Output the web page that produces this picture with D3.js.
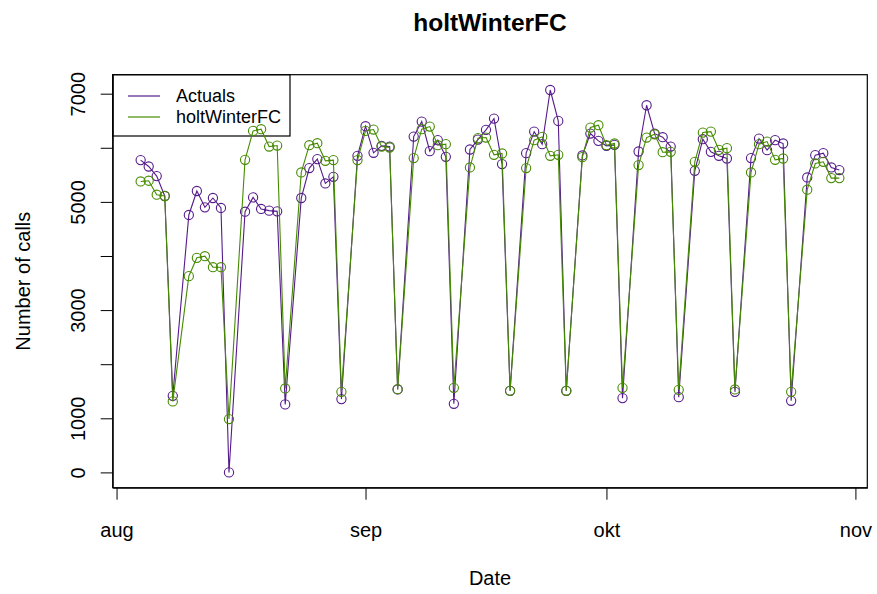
<!DOCTYPE html>
<html>
<head>
<meta charset="utf-8">
<script src="https://cdn.jsdelivr.net/npm/d3@7/dist/d3.min.js"></script>
<style>
  html, body { margin: 0; padding: 0; background: #fff; }
  svg text { font-family: "Liberation Sans", Arial, Helvetica, sans-serif; fill: #000; }
</style>
</head>
<body>
<svg id="chart" width="877" height="594"></svg>
<script>
// ---------- data ----------
const dates = [
  "2015-08-04","2015-08-05","2015-08-06","2015-08-07","2015-08-08",
  "2015-08-10","2015-08-11","2015-08-12","2015-08-13","2015-08-14","2015-08-15",
  "2015-08-17","2015-08-18","2015-08-19","2015-08-20","2015-08-21","2015-08-22",
  "2015-08-24","2015-08-25","2015-08-26","2015-08-27","2015-08-28","2015-08-29",
  "2015-08-31","2015-09-01","2015-09-02","2015-09-03","2015-09-04","2015-09-05",
  "2015-09-07","2015-09-08","2015-09-09","2015-09-10","2015-09-11","2015-09-12",
  "2015-09-14","2015-09-15","2015-09-16","2015-09-17","2015-09-18","2015-09-19",
  "2015-09-21","2015-09-22","2015-09-23","2015-09-24","2015-09-25","2015-09-26",
  "2015-09-28","2015-09-29","2015-09-30","2015-10-01","2015-10-02","2015-10-03",
  "2015-10-05","2015-10-06","2015-10-07","2015-10-08","2015-10-09","2015-10-10",
  "2015-10-12","2015-10-13","2015-10-14","2015-10-15","2015-10-16","2015-10-17",
  "2015-10-19","2015-10-20","2015-10-21","2015-10-22","2015-10-23","2015-10-24",
  "2015-10-26","2015-10-27","2015-10-28","2015-10-29","2015-10-30"
];
const actuals = [
  5772, 5654, 5477, 5109, 1415,
  4758, 5201, 4899, 5072, 4888, 0,
  4819, 5083, 4869, 4838, 4825, 1257,
  5072, 5625, 5791, 5341, 5464, 1355,
  5852, 6399, 5907, 6036, 6023, 1533,
  6207, 6484, 5938, 6141, 5833, 1268,
  5968, 6152, 6331, 6539, 5698, 1508,
  5901, 6299, 6067, 7068, 6497, 1508,
  5858, 6263, 6128, 6036, 6054, 1373,
  5931, 6786, 6260, 6196, 6023, 1391,
  5575, 6159, 5925, 5852, 5802, 1489,
  5809, 6171, 5956, 6141, 6079, 1323,
  5452, 5864, 5901, 5636, 5588
];
const holtWinterFC = [
  5378, 5391, 5133, 5109, 1312,
  3627, 3966, 3996, 3793, 3793, 986,
  5778, 6312, 6343, 6023, 6041, 1552,
  5544, 6048, 6085, 5759, 5772, 1489,
  5772, 6312, 6337, 6023, 6005, 1539,
  5809, 6343, 6392, 6048, 6067, 1563,
  5636, 6178, 6189, 5870, 5894, 1508,
  5625, 6141, 6202, 5852, 5870, 1508,
  5827, 6374, 6417, 6048, 6079, 1563,
  5680, 6189, 6250, 5918, 5925, 1526,
  5741, 6281, 6299, 5962, 5993, 1533,
  5544, 6067, 6115, 5778, 5802, 1489,
  5225, 5710, 5741, 5440, 5440
];
const seriesNames = ["Actuals", "holtWinterFC"];
const seriesColors = ["#551A8B", "#458B00"];
const monthTicks = ["2015-08-01", "2015-09-01", "2015-10-01", "2015-11-01"];
const monthLabels = ["aug", "sep", "okt", "nov"];
const yTicks = [0, 1000, 2000, 3000, 4000, 5000, 6000, 7000];
const yTickLabels = [0, 1000, 3000, 5000, 7000];

// ---------- layout ----------
const plot = { left: 112.7, right: 867.3, top: 74.7, bottom: 487.7 };
const svg = d3.select("#chart");
const parse = d3.utcParse("%Y-%m-%d");
const xs = dates.map(parse);

// R-style 4% extension of the data range
const xExt = d3.extent(xs);
const xPad = (xExt[1] - xExt[0]) * 0.04;
const x = d3.scaleUtc()
  .domain([new Date(+xExt[0] - xPad), new Date(+xExt[1] + xPad)])
  .range([plot.left, plot.right]);

const allVals = actuals.concat(holtWinterFC);
const yExt = d3.extent(allVals);
const yPad = (yExt[1] - yExt[0]) * 0.04;
const y = d3.scaleLinear()
  .domain([yExt[0] - yPad, yExt[1] + yPad])
  .range([plot.bottom, plot.top]);

// ---------- box ----------
svg.append("rect")
  .attr("x", plot.left).attr("y", plot.top)
  .attr("width", plot.right - plot.left).attr("height", plot.bottom - plot.top)
  .attr("fill", "none").attr("stroke", "#000").attr("stroke-width", 1.2);

// ---------- legend (transparent background, drawn under the points) ----------
const lg = svg.append("g");
lg.append("rect")
  .attr("x", plot.left).attr("y", plot.top)
  .attr("width", 290 - plot.left).attr("height", 136 - plot.top)
  .attr("fill", "none").attr("stroke", "#000").attr("stroke-width", 1.2);
seriesNames.forEach((name, i) => {
  const ly = 96 + i * 21;
  lg.append("line")
    .attr("x1", 128).attr("x2", 160).attr("y1", ly).attr("y2", ly)
    .attr("stroke", seriesColors[i]).attr("stroke-width", 1.2);
  lg.append("text")
    .attr("x", 176).attr("y", ly)
    .attr("dominant-baseline", "central")
    .style("font-size", "18px")
    .text(name);
});

// ---------- series ----------
const series = [actuals, holtWinterFC];
const line = d3.line().x((d, i) => x(xs[i])).y(d => y(d));
series.forEach((vals, s) => {
  const g = svg.append("g");
  g.append("path")
    .datum(vals)
    .attr("d", line)
    .attr("fill", "none")
    .attr("stroke", seriesColors[s])
    .attr("stroke-width", 1.1);
  g.selectAll("circle")
    .data(vals)
    .join("circle")
    .attr("cx", (d, i) => x(xs[i]))
    .attr("cy", d => y(d))
    .attr("r", 4.6)
    .attr("fill", "none")
    .attr("stroke", seriesColors[s])
    .attr("stroke-width", 1.1);
});

// ---------- axes ----------
const xAxis = d3.axisBottom(x)
  .tickValues(monthTicks.map(parse))
  .tickFormat((d, i) => monthLabels[i])
  .tickSizeOuter(0).tickSizeInner(12).tickPadding(0);
const gx = svg.append("g").attr("transform", `translate(0,${plot.bottom})`).call(xAxis);
gx.select(".domain").attr("stroke", "#000");
gx.selectAll(".tick line").attr("stroke", "#000");
gx.selectAll(".tick text")
  .attr("y", 0).attr("dy", 0)
  .attr("transform", `translate(0,${530 - plot.bottom})`)
  .attr("dominant-baseline", "central")
  .style("font-size", "20px");

const yAxis = d3.axisLeft(y)
  .tickValues(yTicks)
  .tickFormat(d => yTickLabels.includes(d) ? String(d) : "")
  .tickSizeOuter(0).tickSizeInner(12).tickPadding(0);
const gy = svg.append("g").attr("transform", `translate(${plot.left},0)`).call(yAxis);
gy.select(".domain").attr("stroke", "#000");
gy.selectAll(".tick line").attr("stroke", "#000");
gy.selectAll(".tick text")
  .attr("x", 0).attr("dy", 0)
  .attr("text-anchor", "middle")
  .attr("dominant-baseline", "central")
  .attr("transform", `translate(${78 - plot.left},0) rotate(-90)`)
  .style("font-size", "20px");

// ---------- titles ----------
const cx = (plot.left + plot.right) / 2;
svg.append("text")
  .attr("x", cx).attr("y", 22)
  .attr("text-anchor", "middle").attr("dominant-baseline", "central")
  .style("font-size", "24.5px").style("font-weight", "bold")
  .text("holtWinterFC");
svg.append("text")
  .attr("x", cx).attr("y", 578)
  .attr("text-anchor", "middle").attr("dominant-baseline", "central")
  .style("font-size", "20px")
  .text("Date");
svg.append("text")
  .attr("transform", `translate(23,${(plot.top + plot.bottom) / 2}) rotate(-90)`)
  .attr("text-anchor", "middle").attr("dominant-baseline", "central")
  .style("font-size", "20px")
  .text("Number of calls");
</script>
</body>
</html>
